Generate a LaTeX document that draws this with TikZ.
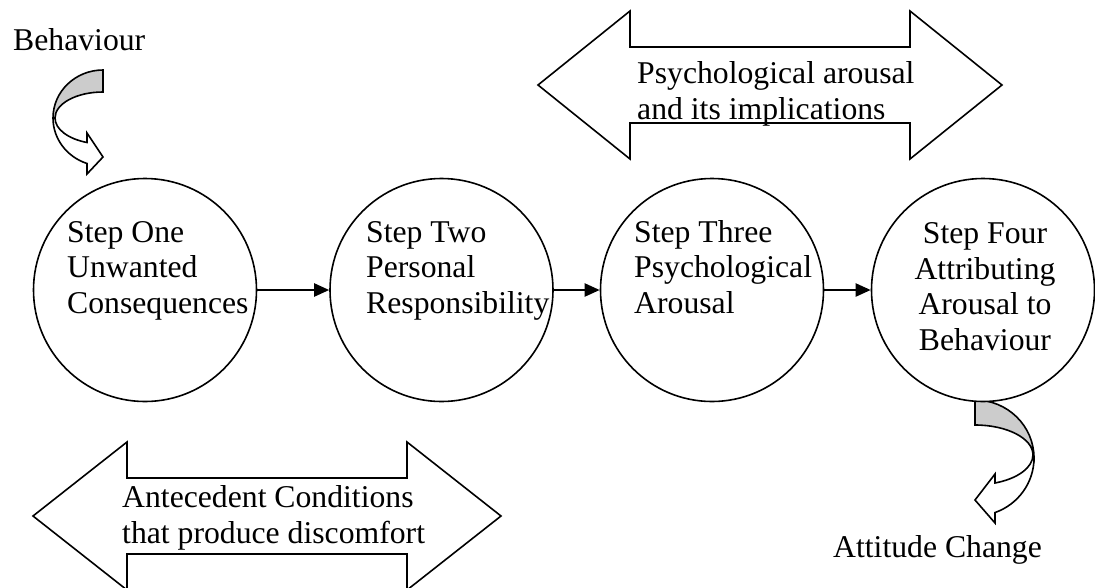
\documentclass[tikz,border=0pt]{standalone}
\usepackage{fontspec}
\setmainfont{Liberation Serif}
\usetikzlibrary{arrows.meta}
\begin{document}
\begin{tikzpicture}[x=1pt,y=-1pt,
  stepcircle/.style={circle,draw,line width=1.6pt,fill=white,minimum size=223pt,inner sep=0pt},
  bodytext/.style={inner sep=0pt,align=left,font=\fontsize{31.7}{35.5}\selectfont},
  flow/.style={line width=2.2pt,-{Triangle[length=15pt,width=13pt]}},
  outline/.style={draw,line width=1.6pt,line join=miter},
  backband/.style={outline,fill=gray!40},
  frontband/.style={outline,fill=white},
  ]
\useasboundingbox (0,0) rectangle (1095,587);

% curved arrow below step four (drawn first so the circle covers its start)
\draw[backband] (975,400) arc[start angle=270,end angle=360,x radius=59,y radius=58]
  -- (1033,455) arc[start angle=0,end angle=-90,x radius=58,y radius=30] -- cycle;
\draw[frontband] (1034,458) arc[start angle=0,end angle=70.2,x radius=59,y radius=58]
  -- (995,523) -- (975,500) -- (995,474) -- (995,483)
  arc[start angle=69.8,end angle=0,x radius=58,y radius=30] -- cycle;

% the four steps
\node[stepcircle] (s1) at (145,290) {};
\node[stepcircle] (s2) at (441.5,290) {};
\node[stepcircle] (s3) at (712,290) {};
\node[stepcircle] (s4) at (983,290) {};

% texts are placed by the baseline of their last line
\node[bodytext,anchor=base west] (t1) at (67,313) {Step One\\Unwanted\\Consequences};
\node[bodytext,anchor=base west] (t2) at (366,313) {Step Two\\Personal\\Responsibility};
\node[bodytext,anchor=base west] (t3) at (634,313) {Step Three\\Psychological\\Arousal};
\node[bodytext,align=center,anchor=base] (t4) at (985,350) {Step Four\\Attributing\\Arousal to\\Behaviour};

\draw[flow] (s1.east) -- (s2.west);
\draw[flow] (s2.east) -- (s3.west);
\draw[flow] (s3.east) -- (s4.west);

% curved arrow from the behaviour label
\draw[backband] (103,70) arc[start angle=270,end angle=180,x radius=50,y radius=48]
  -- (55,118) arc[start angle=180,end angle=270,x radius=48,y radius=26] -- cycle;
\draw[frontband] (53,118) arc[start angle=180,end angle=108.7,x radius=50,y radius=48]
  -- (87,174) -- (103,157) -- (87,133) -- (87,142.5)
  arc[start angle=109.5,end angle=180,x radius=48,y radius=26] -- cycle;

\node[bodytext,anchor=base west] (beh) at (13,50) {Behaviour};
\node[bodytext,anchor=base west] (att) at (833,557) {Attitude Change};

% double-headed block arrows
\draw[outline] (538,85) -- (630,11) -- (630,47) -- (910,47) -- (910,11) -- (1002,85)
  -- (910,159) -- (910,123) -- (630,123) -- (630,159) -- cycle;
\node[bodytext,anchor=base west] (top) at (637,119) {Psychological arousal\\and its implications};

\draw[outline] (33,516) -- (127,442) -- (127,478) -- (407,478) -- (407,442) -- (501,516)
  -- (407,590) -- (407,554) -- (127,554) -- (127,590) -- cycle;
\node[bodytext,anchor=base west] (bottom) at (122,543) {Antecedent Conditions\\that produce discomfort};
\end{tikzpicture}
\end{document}
